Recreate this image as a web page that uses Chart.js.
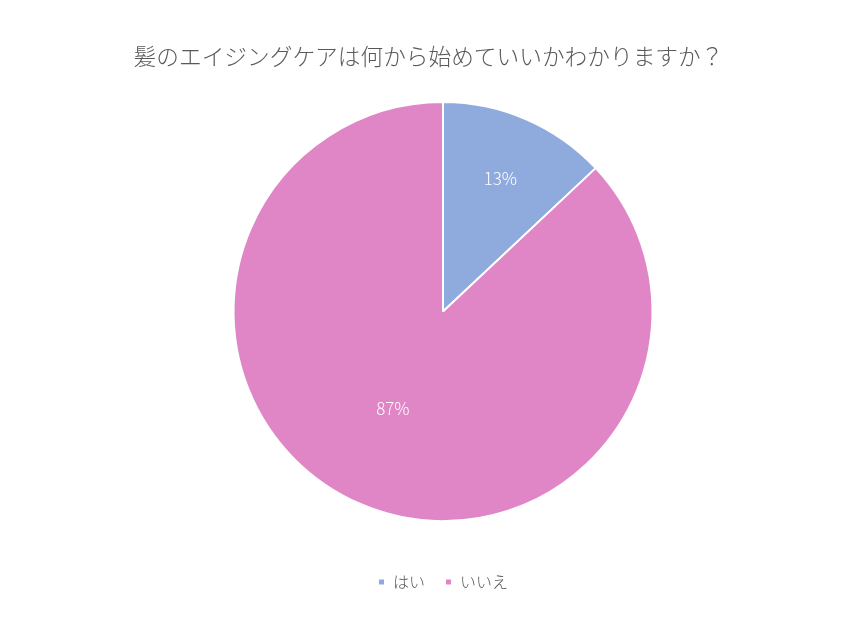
<!DOCTYPE html>
<html lang="ja">
<head>
<meta charset="utf-8">
<title>髪のエイジングケアは何から始めていいかわかりますか？</title>
<script src="https://cdn.jsdelivr.net/npm/chart.js@4"></script>
<style>
  html, body { margin: 0; padding: 0; background: #ffffff; }
  #wrap { width: 857px; height: 622px; position: relative; }
</style>
</head>
<body>
<div id="wrap"><canvas id="chart"></canvas></div>
<script>
// Survey answers
const categories = ['はい', 'いいえ'];
const shares = [13, 87];
const sliceColors = ['#8FAADC', '#E086C6'];
const chartTitle = '髪のエイジングケアは何から始めていいかわかりますか？';

const FONT = '"Noto Sans CJK JP", "Noto Sans", sans-serif';

// Empty layout box used to reserve room on one side of the chart area
function makeSpacer(position, size) {
  return {
    position, weight: 0, fullSize: false, options: {},
    left: 0, top: 0, right: 0, bottom: 0, width: 0, height: 0,
    isHorizontal() { return position === 'top' || position === 'bottom'; },
    update(maxWidth, maxHeight) {
      if (this.isHorizontal()) { this.width = maxWidth; this.height = size; }
      else { this.width = size; this.height = maxHeight; }
    },
    draw() {}
  };
}

const spacers = {
  id: 'spacers',
  start(chart) {
    Chart.layouts.addBox(chart, makeSpacer('left', 29));
    Chart.layouts.addBox(chart, makeSpacer('bottom', 32));
  }
};

// Percentage labels inside each slice (distance as a share of the radius, small angular nudge)
const labelRadius = [0.69, 0.52];
const labelNudge = [0, 0.07];
const sliceLabels = {
  id: 'sliceLabels',
  afterDatasetsDraw(chart) {
    const ctx = chart.ctx;
    const meta = chart.getDatasetMeta(0);
    const values = chart.data.datasets[0].data;
    ctx.save();
    ctx.font = '300 17px ' + FONT;
    ctx.fillStyle = '#FFFFFF';
    ctx.textAlign = 'center';
    ctx.textBaseline = 'middle';
    meta.data.forEach((arc, i) => {
      const p = arc.getProps(['x', 'y', 'startAngle', 'endAngle', 'outerRadius'], true);
      const mid = (p.startAngle + p.endAngle) / 2 + labelNudge[i];
      const r = p.outerRadius * labelRadius[i];
      ctx.fillText(values[i] + '%', p.x + Math.cos(mid) * r, p.y + Math.sin(mid) * r);
    });
    ctx.restore();
  }
};

new Chart(document.getElementById('chart'), {
  type: 'pie',
  data: {
    labels: categories,
    datasets: [{
      data: shares,
      backgroundColor: sliceColors,
      borderColor: '#FFFFFF',
      borderWidth: 2
    }]
  },
  options: {
    responsive: true,
    maintainAspectRatio: false,
    animation: false,
    layout: { padding: { top: 0, bottom: 22, left: 0, right: 0 } },
    plugins: {
      title: {
        display: true,
        text: chartTitle,
        color: '#595959',
        font: { family: FONT, size: 22.7, weight: 300, lineHeight: 1.2 },
        padding: { top: 43, bottom: 30.8 }
      },
      legend: {
        position: 'bottom',
        fullSize: false,
        labels: {
          color: '#595959',
          font: { family: FONT, size: 16, weight: 300 },
          boxWidth: 7,
          boxHeight: 7,
          padding: 20
        }
      },
      tooltip: { enabled: false }
    }
  },
  plugins: [spacers, sliceLabels]
});
</script>
</body>
</html>
